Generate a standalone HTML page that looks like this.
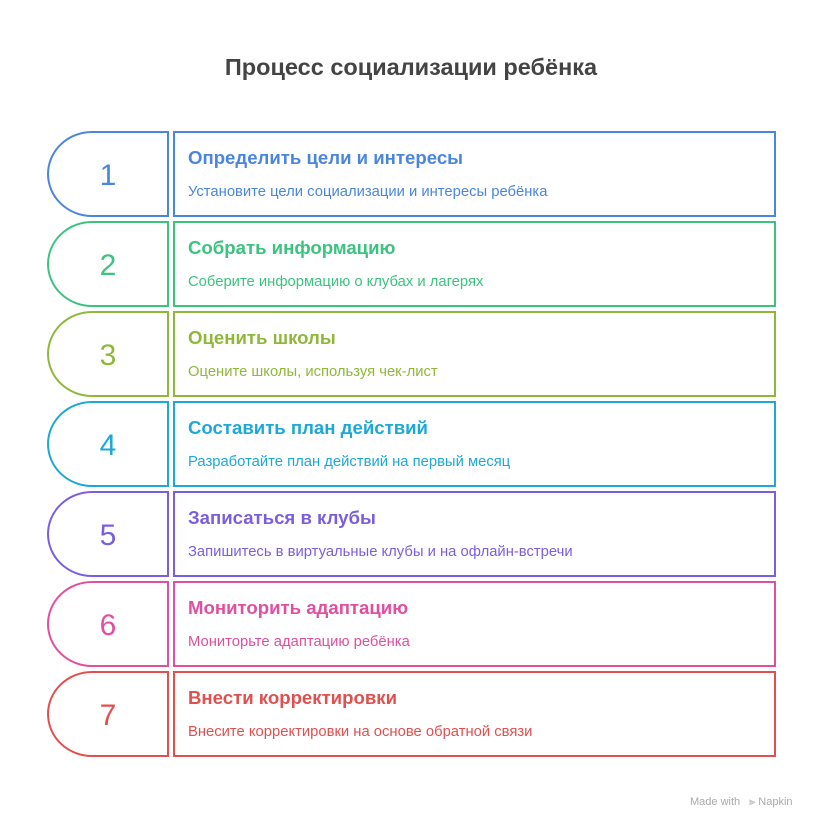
<!DOCTYPE html>
<html><head><meta charset="utf-8"><style>
body{margin:0;background:#fff;}
svg text{font-family:"Liberation Sans","DejaVu Sans",sans-serif;}
</style></head><body>
<svg width="822" height="828" viewBox="0 0 822 828" xmlns="http://www.w3.org/2000/svg">
<rect width="822" height="828" fill="#fff"/>
<text x="411" y="75" text-anchor="middle" font-size="23.5" font-weight="bold" fill="#444">Процесс социализации ребёнка</text>
<g fill="none" stroke-width="2">
<g transform="translate(0,0)" stroke="#4a86e0" fill="#4a86e0">
<path d="M168,132 H92 A44,42 0 0 0 92,216 H168 Z" fill="none"/>
<rect x="174" y="132" width="601" height="84" fill="none"/>
<text x="108" y="185" text-anchor="middle" font-size="30" stroke="none">1</text>
<text x="188" y="164" font-size="18.6" font-weight="bold" stroke="none">Определить цели и интересы</text>
<text x="188" y="196" font-size="14.8" stroke="none">Установите цели социализации и интересы ребёнка</text>
</g>
<g transform="translate(0,90)" stroke="#3cc37f" fill="#3cc37f">
<path d="M168,132 H92 A44,42 0 0 0 92,216 H168 Z" fill="none"/>
<rect x="174" y="132" width="601" height="84" fill="none"/>
<text x="108" y="185" text-anchor="middle" font-size="30" stroke="none">2</text>
<text x="188" y="164" font-size="18.6" font-weight="bold" stroke="none">Собрать информацию</text>
<text x="188" y="196" font-size="14.8" stroke="none">Соберите информацию о клубах и лагерях</text>
</g>
<g transform="translate(0,180)" stroke="#8fb83a" fill="#8fb83a">
<path d="M168,132 H92 A44,42 0 0 0 92,216 H168 Z" fill="none"/>
<rect x="174" y="132" width="601" height="84" fill="none"/>
<text x="108" y="185" text-anchor="middle" font-size="30" stroke="none">3</text>
<text x="188" y="164" font-size="18.6" font-weight="bold" stroke="none">Оценить школы</text>
<text x="188" y="196" font-size="14.8" stroke="none">Оцените школы, используя чек-лист</text>
</g>
<g transform="translate(0,270)" stroke="#1ea8d8" fill="#1ea8d8">
<path d="M168,132 H92 A44,42 0 0 0 92,216 H168 Z" fill="none"/>
<rect x="174" y="132" width="601" height="84" fill="none"/>
<text x="108" y="185" text-anchor="middle" font-size="30" stroke="none">4</text>
<text x="188" y="164" font-size="18.6" font-weight="bold" stroke="none">Составить план действий</text>
<text x="188" y="196" font-size="14.8" stroke="none">Разработайте план действий на первый месяц</text>
</g>
<g transform="translate(0,360)" stroke="#7b5ee0" fill="#7b5ee0">
<path d="M168,132 H92 A44,42 0 0 0 92,216 H168 Z" fill="none"/>
<rect x="174" y="132" width="601" height="84" fill="none"/>
<text x="108" y="185" text-anchor="middle" font-size="30" stroke="none">5</text>
<text x="188" y="164" font-size="18.6" font-weight="bold" stroke="none">Записаться в клубы</text>
<text x="188" y="196" font-size="14.8" stroke="none">Запишитесь в виртуальные клубы и на офлайн-встречи</text>
</g>
<g transform="translate(0,450)" stroke="#e04fa0" fill="#e04fa0">
<path d="M168,132 H92 A44,42 0 0 0 92,216 H168 Z" fill="none"/>
<rect x="174" y="132" width="601" height="84" fill="none"/>
<text x="108" y="185" text-anchor="middle" font-size="30" stroke="none">6</text>
<text x="188" y="164" font-size="18.6" font-weight="bold" stroke="none">Мониторить адаптацию</text>
<text x="188" y="196" font-size="14.8" stroke="none">Мониторьте адаптацию ребёнка</text>
</g>
<g transform="translate(0,540)" stroke="#e0504f" fill="#e0504f">
<path d="M168,132 H92 A44,42 0 0 0 92,216 H168 Z" fill="none"/>
<rect x="174" y="132" width="601" height="84" fill="none"/>
<text x="108" y="185" text-anchor="middle" font-size="30" stroke="none">7</text>
<text x="188" y="164" font-size="18.6" font-weight="bold" stroke="none">Внести корректировки</text>
<text x="188" y="196" font-size="14.8" stroke="none">Внесите корректировки на основе обратной связи</text>
</g>
</g>
<text x="690" y="805" font-size="11" fill="#aaa">Made with</text>
<text x="749" y="805" font-size="11" fill="#aaa">⫸ Napkin</text>
</svg>
</body></html>
